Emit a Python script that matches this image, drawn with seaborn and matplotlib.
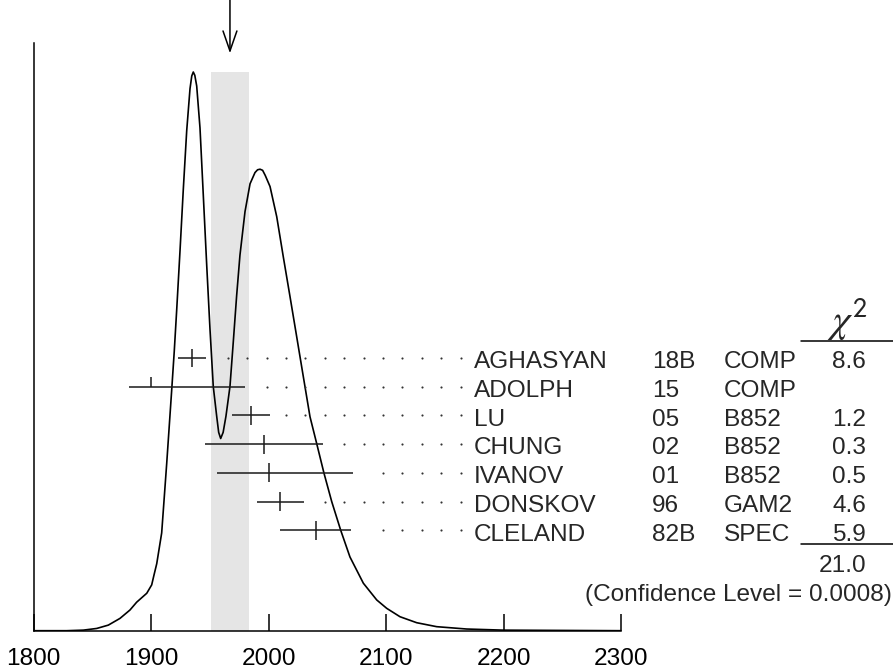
import numpy as np
import matplotlib.pyplot as plt
import seaborn as sns

# measurements (value, lower / upper error), table columns
names = ["AGHASYAN", "ADOLPH", "LU", "CHUNG", "IVANOV", "DONSKOV", "CLELAND"]
years = ["18B", "15", "05", "02", "01", "96", "82B"]
expts = ["COMP", "COMP", "B852", "B852", "B852", "GAM2", "SPEC"]
chi2 = ["8.6", "", "1.2", "0.3", "0.5", "4.6", "5.9"]
mass = [1935, 1900, 1985, 1996, 2000, 2010, 2040]
err_lo = [12.5, 19, 16, 50, 44, 20, 30]
err_hi = [11.5, 80, 16, 50, 72, 20, 30]

avg, avg_err = 1967, 16
chi2_total = "21.0"
conf_level = "0.0008"

# ideogram curve (relative height, max = 1)
curve_mass = [1800, 1828, 1842.2, 1853.6, 1863.5, 1873.4, 1881.9, 1887.6, 1896.2,
              1900.4, 1902.4, 1904.7, 1908.9, 1913.2, 1917.4, 1919.6, 1921.7,
              1924.5, 1927.3, 1930.2, 1933.0, 1934.5, 1935.8, 1937.1, 1938.7,
              1941.5, 1944.3, 1947.2, 1950.0, 1952.8, 1955.7, 1957.4, 1959.1,
              1961.2, 1963.6, 1967.0, 1969.8, 1972.7, 1975.5, 1979.8, 1984.1,
              1988.3, 1990.5, 1992.6, 1994.8, 1997.0, 2001.1, 2006.8, 2012.4,
              2018.1, 2023.8, 2029.4, 2035.1, 2040.8, 2047.0, 2053.6, 2061.2,
              2069.1, 2080.5, 2091.9, 2100.4, 2111.7, 2125.9, 2142.9, 2168.4,
              2199.6, 2300]
curve_height = [0, 0, 0.001, 0.004, 0.010, 0.022, 0.037, 0.051, 0.067,
                0.082, 0.100, 0.120, 0.175, 0.300, 0.430, 0.500, 0.575,
                0.680, 0.790, 0.895, 0.970, 0.993, 1.0, 0.994, 0.975,
                0.900, 0.780, 0.655, 0.540, 0.437, 0.384, 0.355, 0.344,
                0.355, 0.384, 0.437, 0.516, 0.600, 0.672, 0.750, 0.800,
                0.820, 0.825, 0.826, 0.824, 0.815, 0.795, 0.741, 0.669,
                0.598, 0.526, 0.455, 0.383, 0.335, 0.282, 0.231, 0.180,
                0.132, 0.085, 0.055, 0.040, 0.025, 0.0143, 0.0072, 0.003,
                0.001, 0]

sns.set_theme(style="ticks")
plt.rcParams['font.family'] = ['Liberation Sans', 'DejaVu Sans']
plt.rcParams['mathtext.fontset'] = 'stix'

W, H = 893, 669
fig = plt.figure(figsize=(W / 100, H / 100), dpi=100)

x0_px, x1_px = 33.7, 621.3
base_px, top_px, peak_px = 630.7, 43.3, 72.0
ytop = (base_px - top_px) / (base_px - peak_px)
ax = fig.add_axes([x0_px / W, 1 - base_px / H, (x1_px - x0_px) / W, (base_px - top_px) / H])
ax.set_xlim(1800, 2300)
ax.set_ylim(0, ytop)


def h_of(px):
    return (base_px - px) / (base_px - peak_px)


fs = 17.6
ink = "#1a1a1a"

# average band + arrow
ax.axvspan(avg - avg_err, avg + avg_err, ymin=0, ymax=1 / ytop, color="#e5e5e5", lw=0, zorder=0)
ax.annotate("", xy=(avg, h_of(53.3)), xytext=(avg, h_of(0)), annotation_clip=False,
            arrowprops=dict(arrowstyle="->,head_length=1.44,head_width=0.5", lw=1.1,
                            color="black", shrinkA=0, shrinkB=0, mutation_scale=10))

sns.lineplot(x=curve_mass, y=curve_height, ax=ax, color="black", lw=1.2, zorder=3)

# measurements with dotted leaders
grid = 1965.1 + 16.52 * np.arange(13)
row0, dy = 358.0, 28.7
for i in range(len(names)):
    yr = h_of(row0 + dy * i)
    m = mass[i]
    ax.hlines(yr, m - err_lo[i], m + err_hi[i], color=ink, lw=1.1, zorder=4)
    if chi2[i]:
        ax.vlines(m, yr - 0.017, yr + 0.017, color=ink, lw=1.1, zorder=4)
    else:
        ax.vlines(m, yr, yr + 0.018, color=ink, lw=1.1, zorder=4)
    keep = grid > m + err_hi[i] + 12
    ax.scatter(grid[keep], np.full(keep.sum(), yr), s=2.4, color="#333333", lw=0, zorder=4)

sns.despine(ax=ax)
ax.spines["left"].set_color("black")
ax.spines["bottom"].set_color("black")
ax.spines["left"].set_linewidth(1.1)
ax.spines["bottom"].set_linewidth(1.1)
ax.set_yticks([])
ax.set_xticks(range(1800, 2301, 100))
ax.tick_params(axis="x", direction="in", length=12.2, width=1.1, pad=12.5,
               labelsize=fs, colors="black")
ax.set_xlabel("")
ax.set_ylabel("")

# table
tx = fig.add_axes([0, 0, 1, 1])
tx.set_xlim(0, W)
tx.set_ylim(H, 0)
tx.axis("off")
for i in range(len(names)):
    yb = row0 + dy * i + 10.4
    tx.text(474, yb, names[i], fontsize=fs, va="baseline", ha="left")
    tx.text(652, yb, years[i], fontsize=fs, va="baseline", ha="left")
    tx.text(724, yb, expts[i], fontsize=fs, va="baseline", ha="left")
    tx.text(866, yb, chi2[i], fontsize=fs, va="baseline", ha="right")

tx.text(868, 332, r"$\chi^{\mathsf{2}}$", fontsize=29, va="baseline", ha="right")
tx.plot([801, 893], [341, 341], color="black", lw=1.1)
tx.plot([801, 893], [544.3, 544.3], color="black", lw=1.1)
tx.text(866, 571.7, chi2_total, fontsize=fs, va="baseline", ha="right")
tx.text(891.7, 600.5, "(Confidence Level = " + conf_level + ")", fontsize=fs,
        va="baseline", ha="right")

fig.savefig("out.png", dpi=100)
